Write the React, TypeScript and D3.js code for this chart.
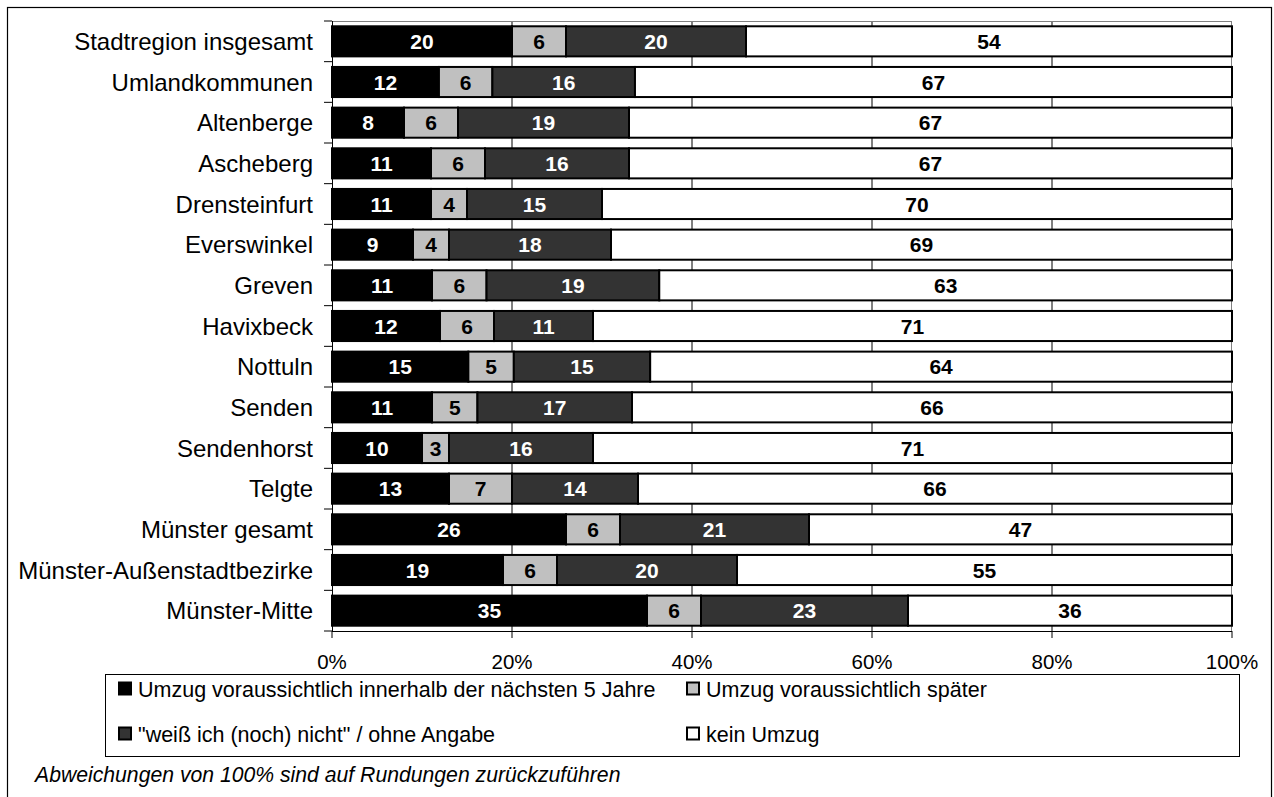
import React from "react";
import * as d3 from "d3";

const categories = [
  "Stadtregion insgesamt",
  "Umlandkommunen",
  "Altenberge",
  "Ascheberg",
  "Drensteinfurt",
  "Everswinkel",
  "Greven",
  "Havixbeck",
  "Nottuln",
  "Senden",
  "Sendenhorst",
  "Telgte",
  "Münster gesamt",
  "Münster-Außenstadtbezirke",
  "Münster-Mitte",
];

const within5 = [20, 12, 8, 11, 11, 9, 11, 12, 15, 11, 10, 13, 26, 19, 35];
const later = [6, 6, 6, 6, 4, 4, 6, 6, 5, 5, 3, 7, 6, 6, 6];
const unknown = [20, 16, 19, 16, 15, 18, 19, 11, 15, 17, 16, 14, 21, 20, 23];
const noMove = [54, 67, 67, 67, 70, 69, 63, 71, 64, 66, 71, 66, 47, 55, 36];

const seriesKeys = ["within5", "later", "unknown", "noMove"];
const seriesLabels = [
  "Umzug voraussichtlich innerhalb der nächsten 5 Jahre",
  "Umzug voraussichtlich später",
  "\"weiß ich (noch) nicht\" / ohne Angabe",
  "kein Umzug",
];
const seriesFill = ["#000000", "#c0c0c0", "#333333", "#ffffff"];
const seriesText = ["#ffffff", "#000000", "#ffffff", "#000000"];

const xTicks = [0, 0.2, 0.4, 0.6, 0.8, 1];
const note = "Abweichungen von 100% sind auf Rundungen zurückzuführen";

const W = 1274;
const H = 797;
const font = "'Liberation Sans', Arial, sans-serif";

export default function App() {
  const rows = categories.map((c, i) => ({
    cat: c,
    within5: within5[i],
    later: later[i],
    unknown: unknown[i],
    noMove: noMove[i],
  }));

  const stacked = d3
    .stack<any>()
    .keys(seriesKeys)
    .offset(d3.stackOffsetExpand)(rows);

  const x = d3.scaleLinear().domain([0, 1]).range([332, 1232]);
  const y = d3
    .scaleBand<string>()
    .domain(categories)
    .range([21, 631])
    .paddingInner(0.26)
    .paddingOuter(0.13);

  const [top, bottom] = y.range();
  const step = y.step();
  const boundaries = d3.range(categories.length + 1).map((i) => top + i * step);

  // legend layout
  const legendCols = [118, 686];
  const legendRows = [689, 734];

  return (
    <svg
      width={W}
      height={H}
      style={{ position: "absolute", left: 0, top: 0, background: "#fff" }}
      fontFamily={font}
    >
      <rect x={0} y={0} width={W} height={H} fill="#fff" />
      {/* outer frame */}
      <rect x={7.5} y={7.5} width={1264} height={H + 10} fill="none" stroke="#000" strokeWidth={1.2} />

      {/* grid lines */}
      {xTicks.slice(1, -1).map((t) => (
        <line key={t} x1={x(t)} x2={x(t)} y1={top} y2={bottom} stroke="#000" strokeWidth={1} />
      ))}
      {/* plot border top/right */}
      <line x1={x(0)} x2={x(1)} y1={top + 0.5} y2={top + 0.5} stroke="#808080" strokeWidth={1} />
      <line x1={x(1) - 0.5} x2={x(1) - 0.5} y1={top} y2={bottom} stroke="#808080" strokeWidth={1} />

      {/* bars */}
      {stacked.map((s, si) => (
        <g key={s.key}>
          {s.map((d, i) => {
            const cat = categories[i];
            const x0 = x(d[0]);
            const x1 = x(d[1]);
            const yy = y(cat)!;
            return (
              <g key={cat}>
                <rect
                  x={x0}
                  y={yy}
                  width={x1 - x0}
                  height={y.bandwidth()}
                  fill={seriesFill[si]}
                  stroke="#000"
                  strokeWidth={2}
                />
                <text
                  x={(x0 + x1) / 2}
                  y={yy + y.bandwidth() / 2}
                  dy="0.36em"
                  textAnchor="middle"
                  fontWeight="bold"
                  fontSize={21}
                  fill={seriesText[si]}
                >
                  {(d.data as any)[s.key]}
                </text>
              </g>
            );
          })}
        </g>
      ))}

      {/* left axis */}
      <line x1={x(0) + 0.5} x2={x(0) + 0.5} y1={top} y2={bottom} stroke="#000" strokeWidth={1} />
      {boundaries.map((b, i) => (
        <line key={i} x1={x(0) - 8} x2={x(0)} y1={b} y2={b} stroke="#000" strokeWidth={1} />
      ))}
      {categories.map((c) => (
        <text
          key={c}
          x={313}
          y={y(c)! + y.bandwidth() / 2}
          dy="0.36em"
          textAnchor="end"
          fontSize={24}
          fill="#000"
        >
          {c}
        </text>
      ))}

      {/* bottom axis */}
      <line x1={x(0)} x2={x(1)} y1={bottom + 0.5} y2={bottom + 0.5} stroke="#000" strokeWidth={1} />
      {xTicks.map((t) => (
        <g key={t}>
          <line x1={x(t)} x2={x(t)} y1={bottom} y2={bottom + 7} stroke="#000" strokeWidth={1} />
          <text x={x(t)} y={669} textAnchor="middle" fontSize={20.5} fill="#000">
            {d3.format(".0%")(t)}
          </text>
        </g>
      ))}

      {/* legend */}
      <rect x={105.5} y={674.5} width={1134} height={82} fill="#fff" stroke="#000" strokeWidth={1} />
      {seriesLabels.map((lab, i) => {
        const cx = legendCols[i % 2];
        const cy = legendRows[Math.floor(i / 2)];
        return (
          <g key={lab}>
            <rect x={cx + 1} y={cy - 6.5} width={12} height={12} fill={seriesFill[i]} stroke="#000" strokeWidth={2} />
            <text x={cx + 20} y={cy} dy="0.36em" fontSize={21.5} fill="#000">
              {lab}
            </text>
          </g>
        );
      })}

      {/* note */}
      <text x={35} y={782} fontSize={21.2} fontStyle="italic" fill="#000">
        {note}
      </text>
    </svg>
  );
}
